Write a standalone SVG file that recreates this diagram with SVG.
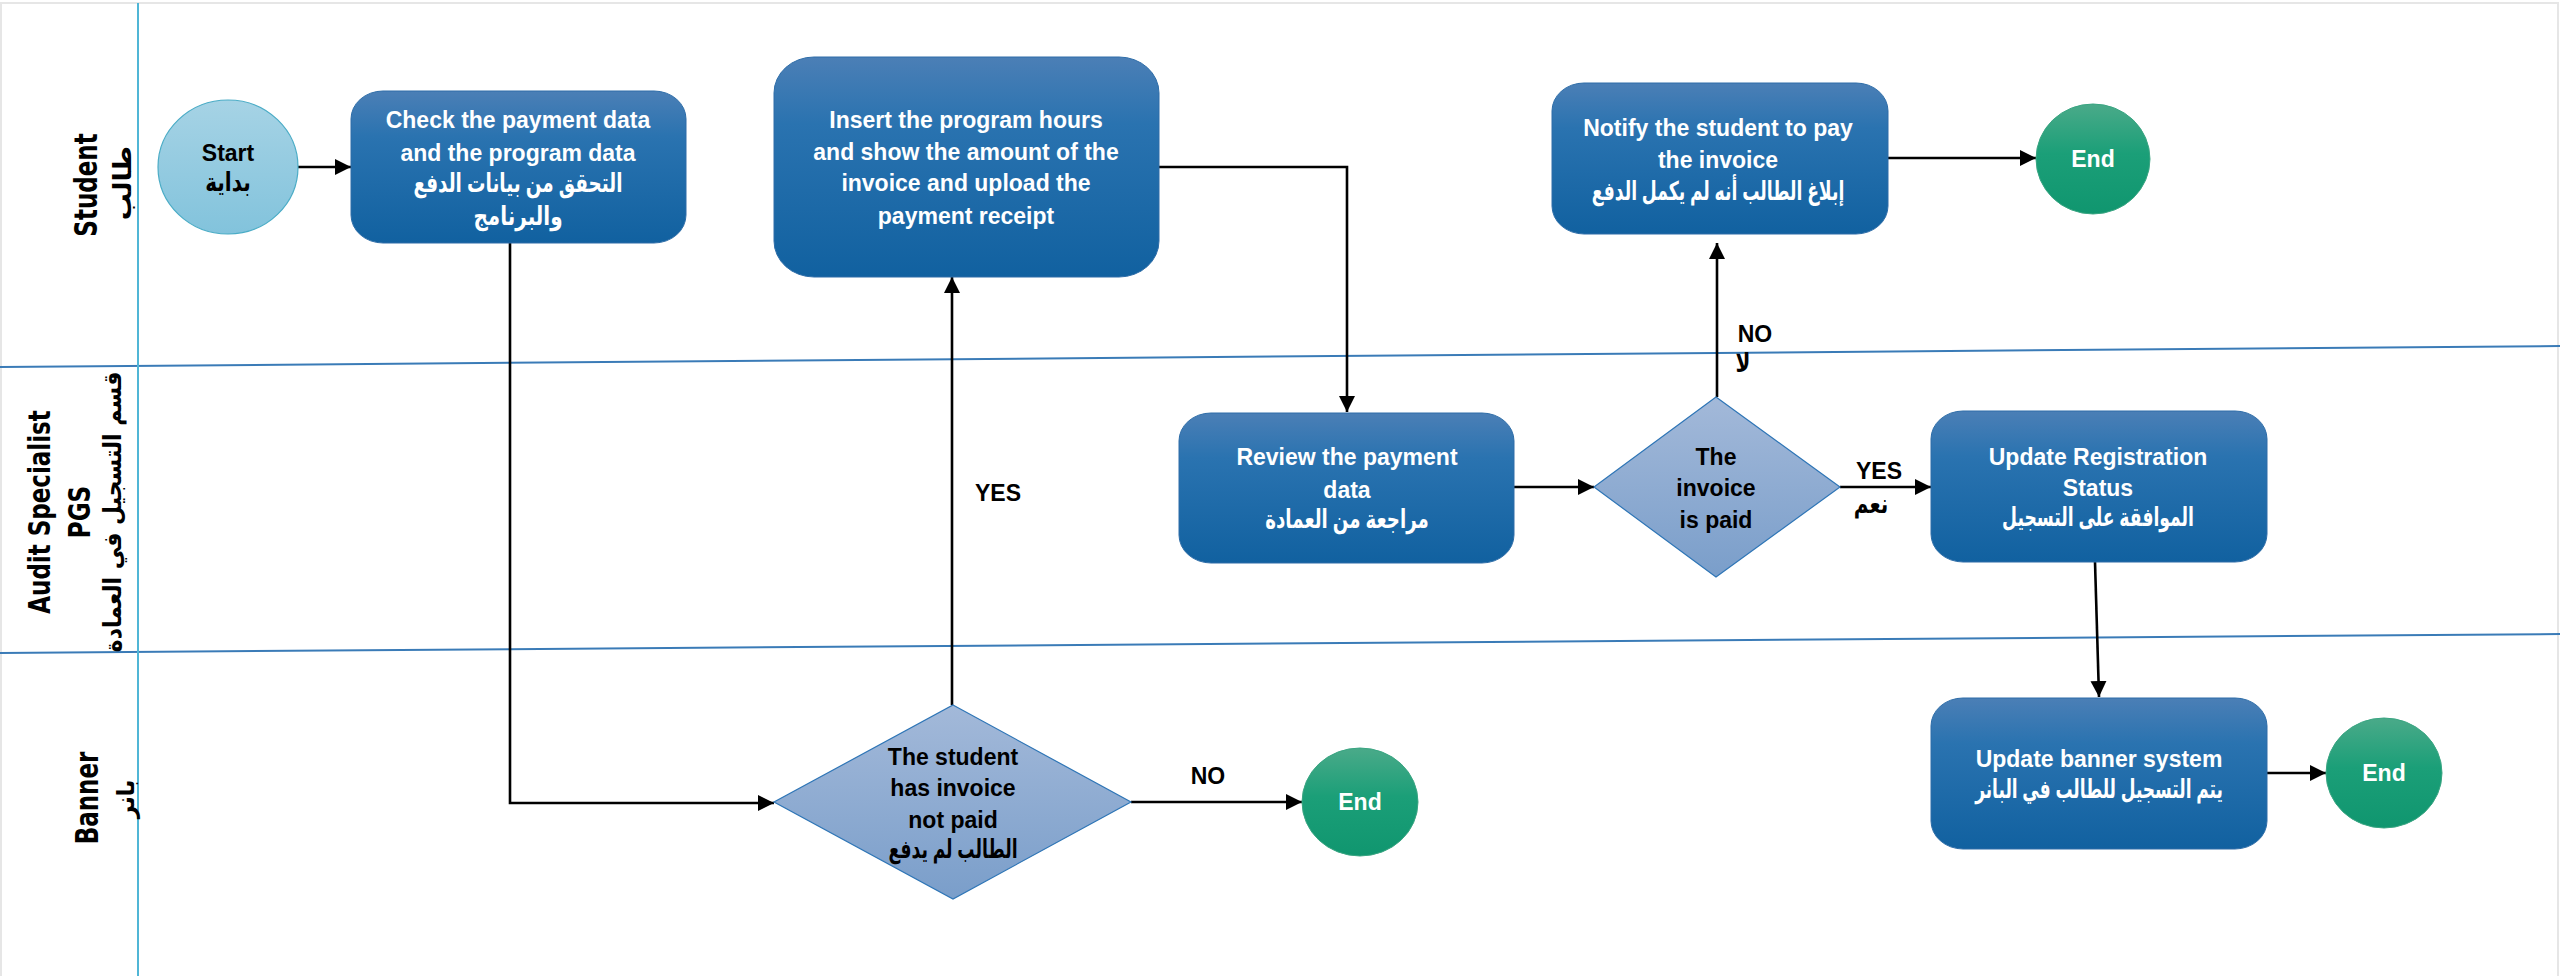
<svg xmlns="http://www.w3.org/2000/svg" width="2560" height="976" viewBox="0 0 2560 976">
<defs>
<linearGradient id="gBox" x1="0" y1="0" x2="0" y2="1">
<stop offset="0" stop-color="#4B7FB6"/><stop offset="0.3" stop-color="#2A73B0"/><stop offset="1" stop-color="#1161A0"/>
</linearGradient>
<linearGradient id="gDia" x1="0" y1="0" x2="0" y2="1">
<stop offset="0" stop-color="#A3B9D9"/><stop offset="1" stop-color="#7A9ECA"/>
</linearGradient>
<linearGradient id="gStart" x1="0" y1="0" x2="0" y2="1">
<stop offset="0" stop-color="#A6D3E5"/><stop offset="1" stop-color="#82C3DC"/>
</linearGradient>
<linearGradient id="gEnd" x1="0" y1="0" x2="0" y2="1">
<stop offset="0" stop-color="#4AAA89"/><stop offset="0.45" stop-color="#1B9F78"/><stop offset="1" stop-color="#10966F"/>
</linearGradient>
<marker id="arr" markerUnits="userSpaceOnUse" markerWidth="17" markerHeight="17" refX="16" refY="8" orient="auto">
<path d="M0,0 L16,8 L0,16 z" fill="#000"/>
</marker>
<style>
.box{fill:url(#gBox);stroke:#2E6DA8;stroke-width:1}
.dia{fill:url(#gDia);stroke:#2E75B6;stroke-width:1.2}
.end{fill:url(#gEnd);stroke:#3AA582;stroke-width:1}
.wt{font-family:"Liberation Sans","DejaVu Sans",sans-serif;font-weight:bold;font-size:23px;fill:#fff;text-anchor:middle}
.bt{font-family:"Liberation Sans","DejaVu Sans",sans-serif;font-weight:bold;font-size:23px;fill:#000;text-anchor:middle}
.ar{font-size:20px}
.lane{font-family:"DejaVu Sans",sans-serif;font-weight:bold;font-size:23px;fill:#000;text-anchor:middle}
.lanear{font-family:"DejaVu Sans",sans-serif;font-weight:bold;font-size:22px;fill:#000;text-anchor:middle}
.conn{fill:none;stroke:#000;stroke-width:2.6}
.hl{stroke:#3A7BB7;stroke-width:2;fill:none}
</style>
</defs>
<rect width="2560" height="976" fill="#fff"/>
<rect x="1" y="3" width="2557" height="990" fill="none" stroke="#E6E6E6" stroke-width="2"/>

<g id="lanes">
<line class="hl" x1="0" y1="367" x2="2560" y2="346"/>
<line class="hl" x1="0" y1="653" x2="2560" y2="634"/>
<line x1="138" y1="3" x2="138" y2="976" stroke="#50B6D6" stroke-width="2"/>
<text class="lane" transform="translate(97,185) rotate(-90) scale(1,1.35)">Student</text>
<text class="lanear" style="font-size:27px" transform="translate(131,183) rotate(-90) scale(1,0.95)">طالب</text>
<text class="lane" transform="translate(50,512) rotate(-90) scale(1,1.3)">Audit Specialist</text>
<text class="lane" transform="translate(90,512) rotate(-90) scale(1,1.3)">PGS</text>
<text class="lanear" transform="translate(121,512) rotate(-90) scale(1,1.12)">قسم التسجيل في العمادة</text>
<text class="lane" transform="translate(98,798) rotate(-90) scale(1,1.35)">Banner</text>
<text class="lanear" transform="translate(134,799) rotate(-90) scale(1,1.1)">بانر</text>
</g>

<g id="connectors">
<path class="conn" d="M298,167 H351" marker-end="url(#arr)"/>
<path class="conn" d="M510,243 V803 H774" marker-end="url(#arr)"/>
<path class="conn" d="M952,705 V277" marker-end="url(#arr)"/>
<path class="conn" d="M1131,802 H1302" marker-end="url(#arr)"/>
<path class="conn" d="M1159,167 H1347 V412" marker-end="url(#arr)"/>
<path class="conn" d="M1514,487 H1594" marker-end="url(#arr)"/>
<path class="conn" d="M1717,397 V243" marker-end="url(#arr)"/>
<path class="conn" d="M1888,158 H2036" marker-end="url(#arr)"/>
<path class="conn" d="M1840,487 H1931" marker-end="url(#arr)"/>
<path class="conn" d="M2095,562 L2099,697" marker-end="url(#arr)"/>
<path class="conn" d="M2267,773 H2326" marker-end="url(#arr)"/>
<text class="bt" x="998" y="501">YES</text>
<text class="bt" x="1208" y="784">NO</text>
<text class="bt" x="1755" y="342">NO</text>
<text class="bt ar" transform="translate(1743,372) scale(1,1.3)">لا</text>
<text class="bt" x="1879" y="479">YES</text>
<text class="bt ar" transform="translate(1871,513) scale(1,1.3)">نعم</text>
</g>

<g id="start">
<ellipse cx="228" cy="167" rx="70" ry="67" fill="url(#gStart)" stroke="#4BACC6" stroke-width="1.2"/>
<text class="bt" x="228" y="161">Start</text>
<text class="bt ar" transform="translate(228,191) scale(1,1.3)">بداية</text>
</g>

<g id="check">
<rect class="box" x="351" y="91" width="335" height="152" rx="32" ry="28"/>
<text class="wt" x="518" y="128">Check the payment data</text>
<text class="wt" x="518" y="161">and the program data</text>
<text class="wt ar" transform="translate(518,192) scale(0.92,1.3)">التحقق من بيانات الدفع</text>
<text class="wt ar" transform="translate(518,225) scale(1,1.3)">والبرنامج</text>
</g>

<g id="insert">
<rect class="box" x="774" y="57" width="385" height="220" rx="40" ry="36"/>
<text class="wt" x="966" y="128">Insert the program hours</text>
<text class="wt" x="966" y="160">and show the amount of the</text>
<text class="wt" x="966" y="191">invoice and upload the</text>
<text class="wt" x="966" y="224">payment receipt</text>
</g>

<g id="notify">
<rect class="box" x="1552" y="83" width="336" height="151" rx="32" ry="28"/>
<text class="wt" x="1718" y="136">Notify the student to pay</text>
<text class="wt" x="1718" y="168">the invoice</text>
<text class="wt ar" transform="translate(1718,200) scale(0.86,1.3)">إبلاغ الطالب أنه لم يكمل الدفع</text>
</g>

<g id="end1">
<ellipse class="end" cx="2093" cy="159" rx="57" ry="55"/>
<text class="wt" x="2093" y="167">End</text>
</g>

<g id="review">
<rect class="box" x="1179" y="413" width="335" height="150" rx="32" ry="28"/>
<text class="wt" x="1347" y="465">Review the payment</text>
<text class="wt" x="1347" y="498">data</text>
<text class="wt ar" transform="translate(1347,528) scale(0.91,1.3)">مراجعة من العمادة</text>
</g>

<g id="paid">
<polygon class="dia" points="1716,397 1840,487 1716,577 1594,487"/>
<text class="bt" x="1716" y="465">The</text>
<text class="bt" x="1716" y="496">invoice</text>
<text class="bt" x="1716" y="528">is paid</text>
</g>

<g id="updatereg">
<rect class="box" x="1931" y="411" width="336" height="151" rx="32" ry="28"/>
<text class="wt" x="2098" y="465">Update Registration</text>
<text class="wt" x="2098" y="496">Status</text>
<text class="wt ar" transform="translate(2098,526) scale(0.86,1.3)">الموافقة على التسجيل</text>
</g>

<g id="notpaid">
<polygon class="dia" points="953,705 1131,802 953,899 774,802"/>
<text class="bt" x="953" y="765">The student</text>
<text class="bt" x="953" y="796">has invoice</text>
<text class="bt" x="953" y="828">not paid</text>
<text class="bt ar" transform="translate(953,858) scale(0.86,1.3)">الطالب لم يدفع</text>
</g>

<g id="end2">
<ellipse class="end" cx="1360" cy="802" rx="58" ry="54"/>
<text class="wt" x="1360" y="810">End</text>
</g>

<g id="updatebanner">
<rect class="box" x="1931" y="698" width="336" height="151" rx="32" ry="28"/>
<text class="wt" x="2099" y="767">Update banner system</text>
<text class="wt ar" transform="translate(2099,798) scale(0.85,1.3)">يتم التسجيل للطالب في البانر</text>
</g>

<g id="end3">
<ellipse class="end" cx="2384" cy="773" rx="58" ry="55"/>
<text class="wt" x="2384" y="781">End</text>
</g>
</svg>
